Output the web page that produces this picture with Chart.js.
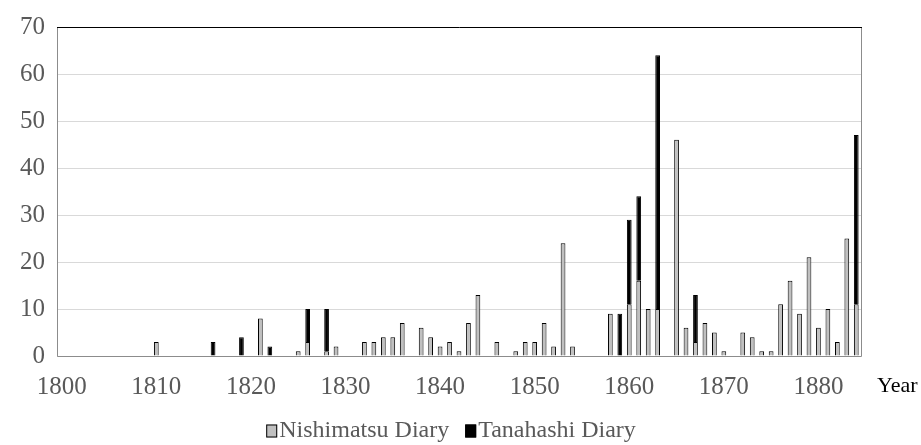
<!DOCTYPE html>
<html>
<head>
<meta charset="utf-8">
<script src="https://cdn.jsdelivr.net/npm/chart.js@4.4.1/dist/chart.umd.min.js"></script>
<style>
  html, body { margin: 0; padding: 0; background: #fff; }
  #wrap { width: 921px; height: 445px; }
</style>
</head>
<body>
<div id="wrap"><canvas id="chart"></canvas></div>
<script>
var years = [
  '1800','1801','1802','1803','1804','1805','1806','1807','1808','1809',
  '1810','1811','1812','1813','1814','1815','1816','1817','1818','1819',
  '1820','1821','1822','1823','1824','1825','1826','1827','1828','1829',
  '1830','1831','1832','1833','1834','1835','1836','1837','1838','1839',
  '1840','1841','1842','1843','1844','1845','1846','1847','1848','1849',
  '1850','1851','1852','1853','1854','1855','1856','1857','1858','1859',
  '1860','1861','1862','1863','1864','1865','1866','1867','1868','1869',
  '1870','1871','1872','1873','1874','1875','1876','1877','1878','1879',
  '1880','1881','1882','1883','1884'
];

var nishimatsu = [
  0, 0, 0, 0, 0, 0, 0, 0, 0, 0,
  3, 0, 0, 0, 0, 0, 0, 0, 0, 0,
  0, 8, 0, 0, 0, 1, 3, 0, 1, 2,
  0, 0, 3, 3, 4, 4, 7, 0, 6, 4,
  2, 3, 1, 7, 13, 0, 3, 0, 1, 3,
  3, 7, 2, 24, 2, 0, 0, 0, 9, 0,
  11, 16, 10, 10, 0, 46, 6, 3, 7, 5,
  1, 0, 5, 4, 1, 1, 11, 16, 9, 21,
  6, 10, 3, 25, 11
];

var tanahashi = [
  0, 0, 0, 0, 0, 0, 0, 0, 0, 0,
  0, 0, 0, 0, 0, 0, 3, 0, 0, 4,
  0, 0, 2, 0, 0, 0, 7, 0, 9, 0,
  0, 0, 0, 0, 0, 0, 0, 0, 0, 0,
  0, 0, 0, 0, 0, 0, 0, 0, 0, 0,
  0, 0, 0, 0, 0, 0, 0, 0, 0, 9,
  18, 18, 0, 54, 0, 0, 0, 10, 0, 0,
  0, 0, 0, 0, 0, 0, 0, 0, 0, 0,
  0, 0, 0, 0, 36
];

var yTicks = [0, 10, 20, 30, 40, 50, 60, 70];
var tickLabelEvery = 10;

var serif = "'Liberation Serif', 'Times New Roman', serif";
var grey = '#595959';

// frame round the plot area, "Year" label, and a compact legend underneath
var framePlugin = {
    id: 'frame',
    afterDraw: function(chart) {
        var a = chart.chartArea, ctx = chart.ctx;
        ctx.save();
        ctx.lineWidth = 1;
        ctx.strokeStyle = '#8c8c8c';
        ctx.beginPath();
        ctx.moveTo(a.left + 0.5, a.top);
        ctx.lineTo(a.left + 0.5, a.bottom + 0.5);
        ctx.lineTo(a.right + 0.5, a.bottom + 0.5);
        ctx.lineTo(a.right + 0.5, a.top);
        ctx.stroke();
        ctx.strokeStyle = '#000';
        ctx.beginPath();
        ctx.moveTo(a.left, a.top + 0.5);
        ctx.lineTo(a.right + 1, a.top + 0.5);
        ctx.stroke();

        ctx.fillStyle = '#000';
        ctx.font = '22px ' + serif;
        ctx.textAlign = 'left';
        ctx.textBaseline = 'middle';
        ctx.fillText('Year', a.right + 16, a.bottom + 30);

        // legend
        var ds = chart.data.datasets;
        var box = 11, gap = 2, space = 16, cy = 431;
        ctx.font = '24px ' + serif;
        var total = 0;
        ds.forEach(function(d, i) {
            total += box + gap + ctx.measureText(d.label).width + (i ? space : 0);
        });
        var x = 451 - total / 2;
        ds.forEach(function(d, i) {
            if (i) x += space;
            ctx.fillStyle = d.backgroundColor;
            ctx.fillRect(x, cy - box / 2 - 1, box, box + 2);
            ctx.strokeStyle = d.borderColor;
            ctx.strokeRect(x + 0.5, cy - box / 2 - 0.5, box - 1, box + 1);
            x += box + gap;
            ctx.fillStyle = grey;
            ctx.fillText(d.label, x, cy);
            x += ctx.measureText(d.label).width;
        });
        ctx.restore();
    }
};

new Chart(document.getElementById('chart').getContext('2d'), {
    type: 'bar',
    data: {
        labels: years,
        datasets: [{
            label: 'Nishimatsu Diary',
            data: nishimatsu.map(function(v) { return v || null; }),
            backgroundColor: '#c0c0c0',
            borderColor: '#000',
            borderWidth: 1,
            barPercentage: 0.5,
            categoryPercentage: 1
        }, {
            label: 'Tanahashi Diary',
            data: tanahashi.map(function(v) { return v || null; }),
            backgroundColor: '#000',
            borderColor: '#000',
            borderWidth: 1,
            barPercentage: 0.5,
            categoryPercentage: 1
        }]
    },
    options: {
        responsive: true,
        maintainAspectRatio: false,
        animation: false,
        layout: { padding: { top: 22, right: 60, left: 0, bottom: 44 } },
        plugins: {
            tooltip: { enabled: false },
            legend: { display: false }
        },
        scales: {
            x: {
                stacked: true,
                offset: true,
                grid: { display: false, drawTicks: false },
                border: { display: false },
                ticks: {
                    autoSkip: false,
                    maxRotation: 0,
                    padding: 16,
                    color: grey,
                    font: { family: serif, size: 25 },
                    callback: function(v, i) {
                        var y = +years[i];
                        return y % tickLabelEvery === 0 ? years[i] : '';
                    }
                },
                afterFit: function(s) { s.height = 45; }
            },
            y: {
                stacked: true,
                min: yTicks[0],
                max: yTicks[yTicks.length - 1],
                grid: { color: '#d9d9d9', drawTicks: false },
                border: { display: false },
                ticks: {
                    stepSize: 10,
                    padding: 12,
                    color: grey,
                    font: { family: serif, size: 25 }
                },
                afterFit: function(s) { s.width = 57; }
            }
        }
    },
    plugins: [framePlugin]
});
</script>
</body>
</html>
